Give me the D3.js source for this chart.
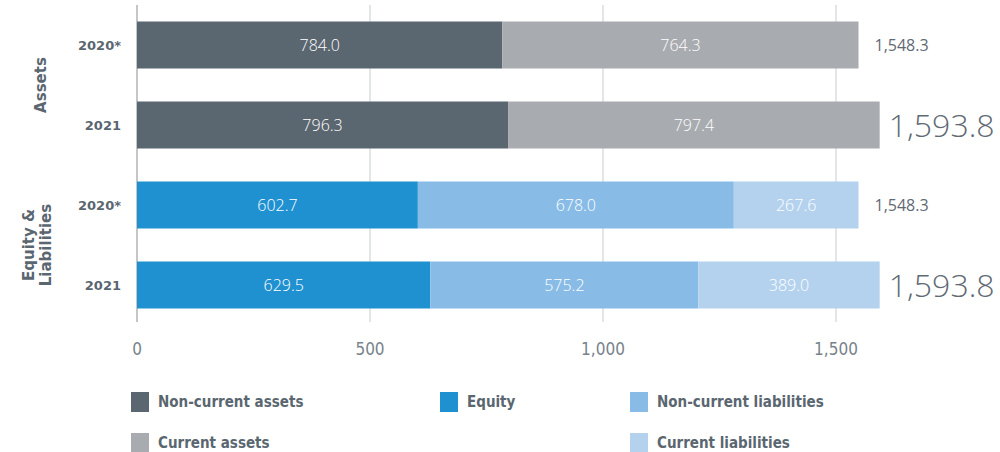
<!DOCTYPE html>
<html>
<head>
<meta charset="utf-8">
<script src="https://cdn.jsdelivr.net/npm/d3@7"></script>
<style>
  body { margin: 0; background: #fff; }
  svg { display: block; }
  .cond { font-family: 'DejaVu Sans', sans-serif; font-stretch: condensed; }
</style>
</head>
<body>
<div id="chart"></div>
<script>
// Chart values
const rows = ["A2020", "A2021", "E2020", "E2021"];
const rowLabels = ["2020*", "2021", "2020*", "2021"];
const groups = [
    { name: ["Assets"], rows: ["A2020", "A2021"] },
    { name: ["Equity &", "Liabilities"], rows: ["E2020", "E2021"] }
];
const series = ["Non-current assets", "Current assets", "Equity", "Non-current liabilities", "Current liabilities"];
const seriesColors = ["#5a6670", "#a8abaf", "#1f91d0", "#88bce6", "#b4d2ee"];
// value per row for each series (null = not used in that row)
const nonCurrentAssets = [784.0, 796.3, null, null];
const currentAssets = [764.3, 797.4, null, null];
const equity = [null, null, 602.7, 629.5];
const nonCurrentLiabilities = [null, null, 678.0, 575.2];
const currentLiabilities = [null, null, 267.6, 389.0];
const totals = [1548.3, 1593.8, 1548.3, 1593.8];
const bigTotal = [false, true, false, true];
const xTicks = [0, 500, 1000, 1500];

const seriesValues = [nonCurrentAssets, currentAssets, equity, nonCurrentLiabilities, currentLiabilities];

const width = 1000, height = 452;
const svg = d3.select("#chart").append("svg").attr("width", width).attr("height", height);

const x = d3.scaleLinear().domain([0, 1500]).range([137, 836]);
const y = d3.scaleBand().domain(rows).range([5, 325]).paddingInner(0.4125).paddingOuter(0.20625);

const fmt = d3.format(",.1f");
const plain = "'Open Sans', 'Noto Sans', sans-serif";

// gridlines
svg.append("g").selectAll("line").data(xTicks).enter().append("line")
    .attr("x1", d => x(d)).attr("x2", d => x(d))
    .attr("y1", 5).attr("y2", 322)
    .attr("stroke", d => d === 0 ? "#c4c6c9" : "#c9cbce")
    .attr("stroke-width", d => d === 0 ? 2 : 1);

// tick labels
svg.append("g").selectAll("text").data(xTicks).enter().append("text")
    .attr("class", "cond")
    .attr("x", d => x(d)).attr("y", 355)
    .attr("text-anchor", "middle")
    .attr("font-size", 17)
    .attr("fill", "#78828b")
    .text(d => d3.format(",")(d));

// stacked segments
const segs = [];
rows.forEach((r, i) => {
    let x0 = 0;
    seriesValues.forEach((vals, s) => {
        const v = vals[i];
        if (v == null) return;
        segs.push({ row: r, s, x0, x1: x0 + v, v });
        x0 += v;
    });
});

svg.append("g").selectAll("rect").data(segs).enter().append("rect")
    .attr("x", d => x(d.x0)).attr("width", d => x(d.x1) - x(d.x0))
    .attr("y", d => y(d.row)).attr("height", y.bandwidth())
    .attr("fill", d => seriesColors[d.s]);

svg.append("g").selectAll("text").data(segs).enter().append("text")
    .attr("x", d => (x(d.x0) + x(d.x1)) / 2)
    .attr("y", d => y(d.row) + y.bandwidth() / 2)
    .attr("dy", "0.36em")
    .attr("text-anchor", "middle")
    .attr("font-family", plain).attr("font-weight", 300).attr("font-size", 16)
    .attr("fill", "#fff")
    .text(d => fmt(d.v));

// totals
svg.append("g").selectAll("text").data(rows).enter().append("text")
    .attr("x", (d, i) => x(totals[i]) + (bigTotal[i] ? 9 : 16))
    .attr("y", d => y(d) + y.bandwidth() / 2)
    .attr("dy", "0.36em")
    .attr("font-family", plain)
    .attr("font-weight", (d, i) => bigTotal[i] ? 300 : 400)
    .attr("font-size", (d, i) => bigTotal[i] ? 32 : 16)
    .attr("fill", "#5f6a74")
    .text((d, i) => fmt(totals[i]));

// row labels
svg.append("g").selectAll("text").data(rows).enter().append("text")
    .attr("x", 121)
    .attr("y", d => y(d) + y.bandwidth() / 2)
    .attr("dy", "0.36em")
    .attr("text-anchor", "end")
    .attr("font-family", "'DejaVu Sans', sans-serif").attr("font-weight", "bold")
    .attr("font-size", 13)
    .attr("fill", "#5a6670")
    .text((d, i) => rowLabels[i]);

// group labels
groups.forEach(g => {
    const cy = (y(g.rows[0]) + y(g.rows[1]) + y.bandwidth()) / 2;
    const n = g.name.length;
    const t = svg.append("text")
        .attr("transform", `translate(${n === 1 ? 46 : 34},${cy}) rotate(-90)`)
        .attr("text-anchor", "middle")
        .attr("font-family", "'DejaVu Sans', sans-serif").attr("font-weight", "bold")
        .attr("font-size", 15)
        .attr("fill", "#5a6670");
    g.name.forEach((line, k) => {
        t.append("tspan").attr("x", 0).attr("dy", k === 0 ? 0 : "1.1em").text(line);
    });
});

// legend
const legendItems = [
    { s: 0, x: 131, y: 392 },
    { s: 2, x: 440, y: 392 },
    { s: 3, x: 630, y: 392 },
    { s: 1, x: 131, y: 433 },
    { s: 4, x: 630, y: 433 }
];
const lg = svg.append("g").selectAll("g").data(legendItems).enter().append("g")
    .attr("transform", d => `translate(${d.x},${d.y})`);
lg.append("rect").attr("width", 18).attr("height", 20).attr("fill", d => seriesColors[d.s]);
lg.append("text").attr("class", "cond")
    .attr("x", 27).attr("y", 10).attr("dy", "0.36em")
    .attr("font-weight", "bold").attr("font-size", 15)
    .attr("fill", "#5a6670")
    .text(d => series[d.s]);
</script>
</body>
</html>
